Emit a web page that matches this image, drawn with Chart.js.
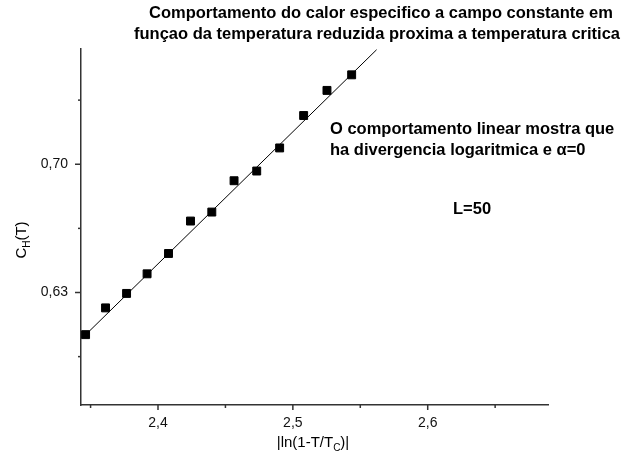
<!DOCTYPE html>
<html>
    <head>
        <title>Calor especifico</title>
        <meta charset="utf-8" />
        <script src="https://cdn.jsdelivr.net/npm/chart.js@4.4.0/dist/chart.umd.min.js"></script>
        <style>
            * {
                margin: 0;
                padding: 0;
                box-sizing: border-box;
            }
            body {
                background-color: #ffffff;
            }
        </style>
    </head>
    <body>

        <canvas id="myChart" width="622" height="465"></canvas>

        <script>
            // values
            const lnT = [2.3463, 2.3611, 2.3767, 2.3919, 2.4078, 2.4241, 2.4399, 2.4564, 2.4732, 2.4902, 2.5080, 2.5253, 2.5436];
            const cH = [0.6070, 0.6216, 0.6295, 0.6402, 0.6513, 0.6690, 0.6739, 0.6910, 0.6963, 0.7089, 0.7266, 0.7403, 0.7488];

            // linear fit line, end points
            const fitX = [2.3463, 2.5621];
            const fitY = [0.6069, 0.7625];

            const xTicks = [2.35, 2.40, 2.45, 2.50, 2.55, 2.60, 2.65];
            const xLabeled = [2.40, 2.50, 2.60];
            const yTicks = [0.595, 0.630, 0.665, 0.700, 0.735];
            const yLabeled = [0.630, 0.700];

            const titleLines = [
                'Comportamento do calor especifico a campo constante em',
                'funçao da temperatura reduzida proxima a temperatura critica'
            ];
            const noteLines = [
                'O comportamento linear mostra que',
                'ha divergencia logaritmica e α=0'
            ];
            const sizeNote = 'L=50';

            const FONT = '"Liberation Sans", Arial, sans-serif';
            const isIn = (list, v) => list.some(t => Math.abs(t - v) < 1e-6);
            const comma = (v, d) => v.toFixed(d).replace('.', ',');

            // small outward tick marks, long on labeled values
            const tickMarks = {
                id: 'tickMarks',
                afterDraw(chart) {
                    const ctx = chart.ctx;
                    const { left, bottom } = chart.chartArea;
                    ctx.save();
                    ctx.strokeStyle = '#333';
                    ctx.lineWidth = 1.5;
                    xTicks.forEach(v => {
                        const px = chart.scales.x.getPixelForValue(v);
                        const len = isIn(xLabeled, v) ? 5 : 3;
                        ctx.beginPath();
                        ctx.moveTo(px, bottom);
                        ctx.lineTo(px, bottom + len);
                        ctx.stroke();
                    });
                    yTicks.forEach(v => {
                        const py = chart.scales.y.getPixelForValue(v);
                        const len = isIn(yLabeled, v) ? 6 : 3;
                        ctx.beginPath();
                        ctx.moveTo(left, py);
                        ctx.lineTo(left - len, py);
                        ctx.stroke();
                    });
                    ctx.restore();
                }
            };

            // titles and notes, axis titles with subscripts
            const texts = {
                id: 'texts',
                afterDraw(chart) {
                    const ctx = chart.ctx;
                    ctx.save();
                    ctx.fillStyle = '#000';
                    ctx.textBaseline = 'middle';

                    ctx.font = 'bold 16.5px ' + FONT;
                    ctx.textAlign = 'center';
                    ctx.fillText(titleLines[0], 381, 13);
                    ctx.fillText(titleLines[1], 377, 34);

                    ctx.textAlign = 'left';
                    ctx.fillText(noteLines[0], 330, 129);
                    ctx.fillText(noteLines[1], 330, 150);
                    ctx.fillText(sizeNote, 453, 209);

                    // x axis title
                    const a = '|ln(1-T/T', sub = 'C', b = ')|';
                    ctx.font = '15px ' + FONT;
                    const wa = ctx.measureText(a).width, wb = ctx.measureText(b).width;
                    ctx.font = '10px ' + FONT;
                    const ws = ctx.measureText(sub).width;
                    let x0 = 313 - (wa + ws + wb) / 2;
                    const yx = 443;
                    ctx.font = '15px ' + FONT;
                    ctx.fillText(a, x0, yx);
                    ctx.font = '10px ' + FONT;
                    ctx.fillText(sub, x0 + wa, yx + 5);
                    ctx.font = '15px ' + FONT;
                    ctx.fillText(b, x0 + wa + ws, yx);

                    // y axis title, rotated
                    ctx.translate(22, 240);
                    ctx.rotate(-Math.PI / 2);
                    const c = 'C', subH = 'H', d = '(T)';
                    ctx.font = '15px ' + FONT;
                    const wc = ctx.measureText(c).width, wd = ctx.measureText(d).width;
                    ctx.font = '10px ' + FONT;
                    const wh = ctx.measureText(subH).width;
                    x0 = -(wc + wh + wd) / 2;
                    ctx.font = '15px ' + FONT;
                    ctx.fillText(c, x0, 0);
                    ctx.font = '10px ' + FONT;
                    ctx.fillText(subH, x0 + wc, 5);
                    ctx.font = '15px ' + FONT;
                    ctx.fillText(d, x0 + wc + wh, 0);

                    ctx.restore();
                }
            };

            const data = {
                datasets: [{
                    label: 'CH',
                    data: lnT.map((x, i) => ({ x: x, y: cH[i] })),
                    pointStyle: 'rect',
                    pointRadius: 5.6,
                    pointBackgroundColor: '#000',
                    pointBorderColor: '#000',
                    pointBorderWidth: 1,
                    showLine: false,
                    order: 1
                }, {
                    label: 'fit',
                    data: fitX.map((x, i) => ({ x: x, y: fitY[i] })),
                    showLine: true,
                    borderColor: '#000',
                    borderWidth: 1,
                    pointRadius: 0,
                    order: 2
                }]
            };

            const chartConfig = {
                type: 'scatter',
                data,
                plugins: [tickMarks, texts],
                options: {
                    responsive: false,
                    animation: false,
                    devicePixelRatio: 1,
                    layout: {
                        padding: { top: 49, right: 74, left: 0, bottom: 0 }
                    },
                    plugins: {
                        legend: { display: false },
                        tooltip: { enabled: false }
                    },
                    scales: {
                        x: {
                            type: 'linear',
                            min: 2.3429,
                            max: 2.6892,
                            afterBuildTicks: scale => {
                                scale.ticks = xTicks.map(v => ({ value: v }));
                            },
                            afterFit: scale => { scale.height = 60; },
                            grid: { display: false, drawTicks: false },
                            border: { display: true, color: '#333', width: 1.5 },
                            ticks: {
                                padding: 10,
                                color: '#111',
                                maxRotation: 0,
                                autoSkip: false,
                                font: { family: FONT, size: 14 },
                                callback: v => isIn(xLabeled, v) ? comma(v, 1) : ''
                            }
                        },
                        y: {
                            type: 'linear',
                            min: 0.5686,
                            max: 0.7629,
                            afterBuildTicks: scale => {
                                scale.ticks = yTicks.map(v => ({ value: v }));
                            },
                            afterFit: scale => { scale.width = 81; },
                            grid: { display: false, drawTicks: false },
                            border: { display: true, color: '#333', width: 1.5 },
                            ticks: {
                                padding: 13,
                                color: '#111',
                                autoSkip: false,
                                font: { family: FONT, size: 14 },
                                callback: v => isIn(yLabeled, v) ? comma(v, 2) : ''
                            }
                        }
                    }
                }
            };

            new Chart(document.getElementById('myChart'), chartConfig);
        </script>
    </body>
</html>
